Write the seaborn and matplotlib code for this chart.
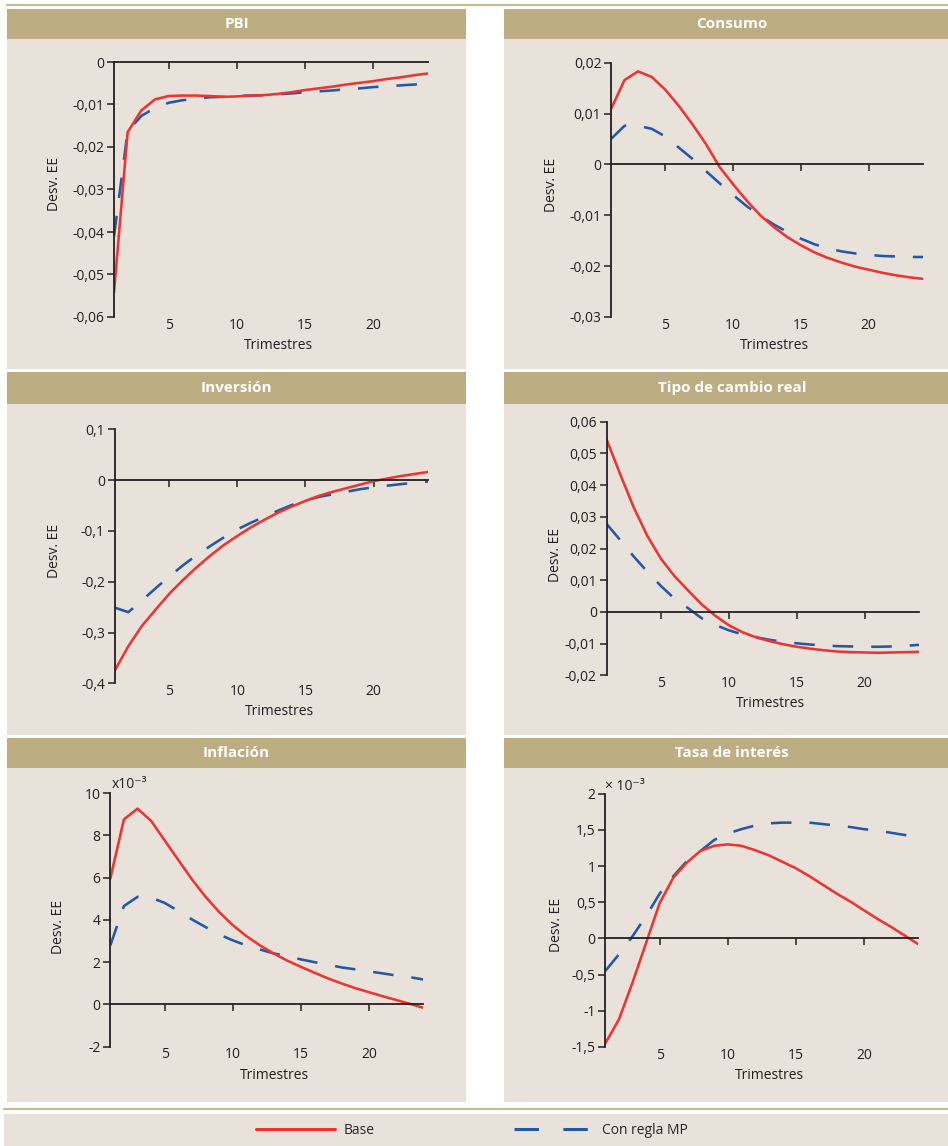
import matplotlib
matplotlib.use("Agg")
import matplotlib.pyplot as plt
from matplotlib.patches import Rectangle
from matplotlib.lines import Line2D
from matplotlib.ticker import FuncFormatter, MultipleLocator
import pandas as pd
import seaborn as sns

# Respuestas al impulso (24 trimestres)
TRIMESTRES = list(range(1, 25))
SERIES = ["Base", "Con regla MP"]

PBI_BASE = [-0.0542, -0.0165, -0.0114, -0.0088, -0.0080, -0.0079, -0.0079, -0.0080,
            -0.0082, -0.0081, -0.0079, -0.0078, -0.0075, -0.0071, -0.0066, -0.0062,
            -0.0058, -0.0053, -0.0049, -0.0045, -0.0040, -0.0036, -0.0031, -0.0027]
PBI_MP = [-0.0410, -0.0163, -0.0127, -0.0108, -0.0096, -0.0090, -0.0087, -0.0083,
          -0.0082, -0.0080, -0.0079, -0.0078, -0.0076, -0.0074, -0.0071, -0.0069,
          -0.0067, -0.0064, -0.0062, -0.0059, -0.0057, -0.0055, -0.0053, -0.0051]

CONSUMO_BASE = [0.0109, 0.0166, 0.0183, 0.0172, 0.0147, 0.0115, 0.0079, 0.0040,
                -0.0005, -0.0039, -0.0071, -0.0100, -0.0123, -0.0143, -0.0159, -0.0173,
                -0.0184, -0.0193, -0.0201, -0.0207, -0.0213, -0.0218, -0.0222, -0.0225]
CONSUMO_MP = [0.0050, 0.0076, 0.0076, 0.0070, 0.0055, 0.0033, 0.0011, -0.0013,
              -0.0037, -0.0060, -0.0082, -0.0101, -0.0118, -0.0133, -0.0146, -0.0157,
              -0.0165, -0.0171, -0.0175, -0.0178, -0.0180, -0.0181, -0.0182, -0.0182]

INVERSION_BASE = [-0.375, -0.327, -0.287, -0.255, -0.224, -0.197, -0.172, -0.149,
                  -0.128, -0.110, -0.093, -0.078, -0.064, -0.052, -0.041, -0.031,
                  -0.023, -0.016, -0.009, -0.002, 0.003, 0.008, 0.012, 0.016]
INVERSION_MP = [-0.251, -0.260, -0.237, -0.213, -0.190, -0.168, -0.148, -0.130,
                -0.113, -0.097, -0.084, -0.072, -0.060, -0.049, -0.040, -0.033,
                -0.028, -0.023, -0.018, -0.014, -0.011, -0.008, -0.005, -0.003]

TCR_BASE = [0.0545, 0.0435, 0.0330, 0.0240, 0.0168, 0.0113, 0.0068, 0.0024,
            -0.0012, -0.0042, -0.0064, -0.0080, -0.0092, -0.0102, -0.0110, -0.0116,
            -0.0121, -0.0125, -0.0127, -0.0128, -0.0129, -0.0128, -0.0127, -0.0126]
TCR_MP = [0.0278, 0.0227, 0.0175, 0.0127, 0.0082, 0.0042, 0.0012, -0.0020,
          -0.0041, -0.0058, -0.0071, -0.0080, -0.0088, -0.0094, -0.0099, -0.0103,
          -0.0106, -0.0108, -0.0109, -0.0110, -0.0110, -0.0109, -0.0107, -0.0104]

# en unidades de 10^-3
INFLACION_BASE = [5.95, 8.75, 9.26, 8.68, 7.75, 6.83, 5.91, 5.09, 4.37, 3.75, 3.23, 2.79,
                  2.41, 2.07, 1.78, 1.50, 1.23, 0.99, 0.77, 0.58, 0.39, 0.21, 0.03, -0.16]
INFLACION_MP = [2.79, 4.65, 5.09, 5.05, 4.80, 4.42, 4.02, 3.66, 3.31, 3.03, 2.79, 2.60,
                2.41, 2.29, 2.13, 2.00, 1.88, 1.75, 1.66, 1.56, 1.47, 1.37, 1.29, 1.18]

TASA_BASE = [-1.45, -1.12, -0.61, -0.06, 0.49, 0.84, 1.05, 1.21, 1.28, 1.30, 1.28, 1.22,
             1.15, 1.06, 0.97, 0.86, 0.74, 0.62, 0.51, 0.39, 0.27, 0.16, 0.04, -0.08]
TASA_MP = [-0.45, -0.22, 0.03, 0.31, 0.62, 0.86, 1.07, 1.21, 1.36, 1.45, 1.51, 1.56,
           1.59, 1.60, 1.60, 1.60, 1.58, 1.56, 1.54, 1.51, 1.49, 1.46, 1.43, 1.40]

RED = "#EE3431"
BLUE = "#2358A6"
GOLD = "#BCAE82"
BEIGE = "#E8E2DB"
INK = "#231F20"

W, H = 948, 1146

sns.set_theme(style="ticks")
plt.rcParams["font.family"] = ["Open Sans", "DejaVu Sans"]
plt.rcParams["axes.edgecolor"] = INK


def fx(px):
    return px / W


def fy(py):
    return 1 - py / H


def fmt_coma(v, pos):
    s = f"{round(v, 6):g}".replace(".", ",")
    return "0" if s == "-0" else s


# columnas: (izq, der, centro del título); filas: (top cabecera, fin cabecera, fin panel)
COLS = [(7, 466, 236.5), (504, 960, 732)]
ROWS = [(9, 39, 369), (372, 404, 735), (738, 768, 1102)]

PANELS = [
    dict(title="PBI", base=PBI_BASE, mp=PBI_MP, ylim=(-0.06, 0), step=0.01,
         pos=(0, 0), box=(114, 428, 62, 317), ylab=(-0.166, 0.52), escala=None),
    dict(title="Consumo", base=CONSUMO_BASE, mp=CONSUMO_MP, ylim=(-0.03, 0.02), step=0.01,
         pos=(0, 1), box=(611, 923, 62.7, 317), ylab=(-0.168, 0.52), escala=None),
    dict(title="Inversión", base=INVERSION_BASE, mp=INVERSION_MP, ylim=(-0.4, 0.1), step=0.1,
         pos=(1, 0), box=(114.7, 428, 429.3, 683.3), ylab=(-0.169, 0.52), escala=None),
    dict(title="Tipo de cambio real", base=TCR_BASE, mp=TCR_MP, ylim=(-0.02, 0.06), step=0.01,
         pos=(1, 1), box=(606.5, 919, 421.7, 675.3), ylab=(-0.14, 0.474), escala=None),
    dict(title="Inflación", base=INFLACION_BASE, mp=INFLACION_MP, ylim=(-2, 10), step=2,
         pos=(2, 0), box=(110.3, 423.3, 793, 1046.7), ylab=(-0.141, 0.472),
         escala=("x10⁻³", 0.006, 1.02)),
    dict(title="Tasa de interés", base=TASA_BASE, mp=TASA_MP, ylim=(-1.5, 2), step=0.5,
         pos=(2, 1), box=(605.3, 918.3, 793.7, 1047), ylab=(-0.133, 0.48),
         escala=("× 10⁻³", 0.0, 1.016)),
]

fig = plt.figure(figsize=(W / 100, H / 100), dpi=100)
fig.patch.set_facecolor("white")

# marcos de los paneles
for p in PANELS:
    r, c = p["pos"]
    x0, x1, xc = COLS[c]
    top, head, bottom = ROWS[r]
    fig.add_artist(Rectangle((fx(x0), fy(head)), (x1 - x0) / W, (head - top) / H,
                             transform=fig.transFigure, facecolor=GOLD, edgecolor="none", zorder=-2))
    fig.add_artist(Rectangle((fx(x0), fy(bottom)), (x1 - x0) / W, (bottom - head) / H,
                             transform=fig.transFigure, facecolor=BEIGE, edgecolor="none", zorder=-2))
    fig.text(fx(xc), fy((top + head) / 2), p["title"], ha="center", va="center",
             color="white", fontsize=11, fontweight="bold")

# filetes y banda de leyenda
fig.add_artist(Line2D([fx(7), fx(948)], [fy(5), fy(5)], transform=fig.transFigure,
                      color="#C4B991", lw=1.5))
fig.add_artist(Line2D([fx(4), fx(948)], [fy(1108.5), fy(1108.5)], transform=fig.transFigure,
                      color="#C4B991", lw=1.5))
fig.add_artist(Rectangle((fx(4), fy(1146)), 944 / W, 32 / H, transform=fig.transFigure,
                         facecolor=BEIGE, edgecolor="none", zorder=-2))

for p in PANELS:
    L, R, T, B = p["box"]
    ax = fig.add_axes([fx(L), fy(B), (R - L) / W, (B - T) / H])
    ax.set_facecolor("none")

    df = pd.DataFrame({
        "trimestre": TRIMESTRES * 2,
        "valor": p["base"] + p["mp"],
        "serie": [SERIES[0]] * len(TRIMESTRES) + [SERIES[1]] * len(TRIMESTRES),
    })
    sns.lineplot(data=df, x="trimestre", y="valor", hue="serie", style="serie",
                 hue_order=SERIES[::-1], style_order=SERIES[::-1],
                 palette={SERIES[0]: RED, SERIES[1]: BLUE},
                 dashes={SERIES[0]: "", SERIES[1]: (8, 7)},
                 linewidth=1.85, legend=False, ax=ax)

    ax.set_xlim(1, 24)
    ax.set_ylim(*p["ylim"])
    ax.set_xticks([5, 10, 15, 20])
    ax.yaxis.set_major_locator(MultipleLocator(p["step"]))
    ax.yaxis.set_major_formatter(FuncFormatter(fmt_coma))

    # eje horizontal en cero, etiquetas abajo
    ax.spines["top"].set_position(("data", 0))
    ax.spines["top"].set_bounds(1, 24)
    ax.spines["bottom"].set_visible(False)
    ax.spines["right"].set_visible(False)
    for s in ("top", "left"):
        ax.spines[s].set_linewidth(1.3)
        ax.spines[s].set_color(INK)
    ax.tick_params(axis="x", bottom=False, top=True, labelbottom=True, labeltop=False,
                   direction="in", length=5, width=1.1, pad=0.5, labelsize=10,
                   colors=INK)
    ax.tick_params(axis="y", direction="out", length=5, width=1.1, pad=2, labelsize=10,
                   colors=INK)

    ax.set_xlabel("Trimestres", fontsize=10, color=INK)
    ax.xaxis.set_label_coords(0.525, -0.082)
    ax.set_ylabel("Desv. EE", fontsize=10, color=INK)
    ax.yaxis.set_label_coords(*p["ylab"])

    if p["escala"]:
        txt, ex, ey = p["escala"]
        ax.text(ex, ey, txt, transform=ax.transAxes, ha="left", va="baseline",
                fontsize=10, color=INK)

handles = [
    Line2D([], [], color=RED, lw=2.2),
    Line2D([], [], color=BLUE, lw=2.2, dashes=(8, 8)),
]
fig.legend(handles, SERIES, loc="center", bbox_to_anchor=(fx(472), fy(1130)),
           ncol=2, frameon=False, fontsize=10, handlelength=5.7, handletextpad=0.65,
           columnspacing=10)

fig.savefig("out.png", dpi=100)
